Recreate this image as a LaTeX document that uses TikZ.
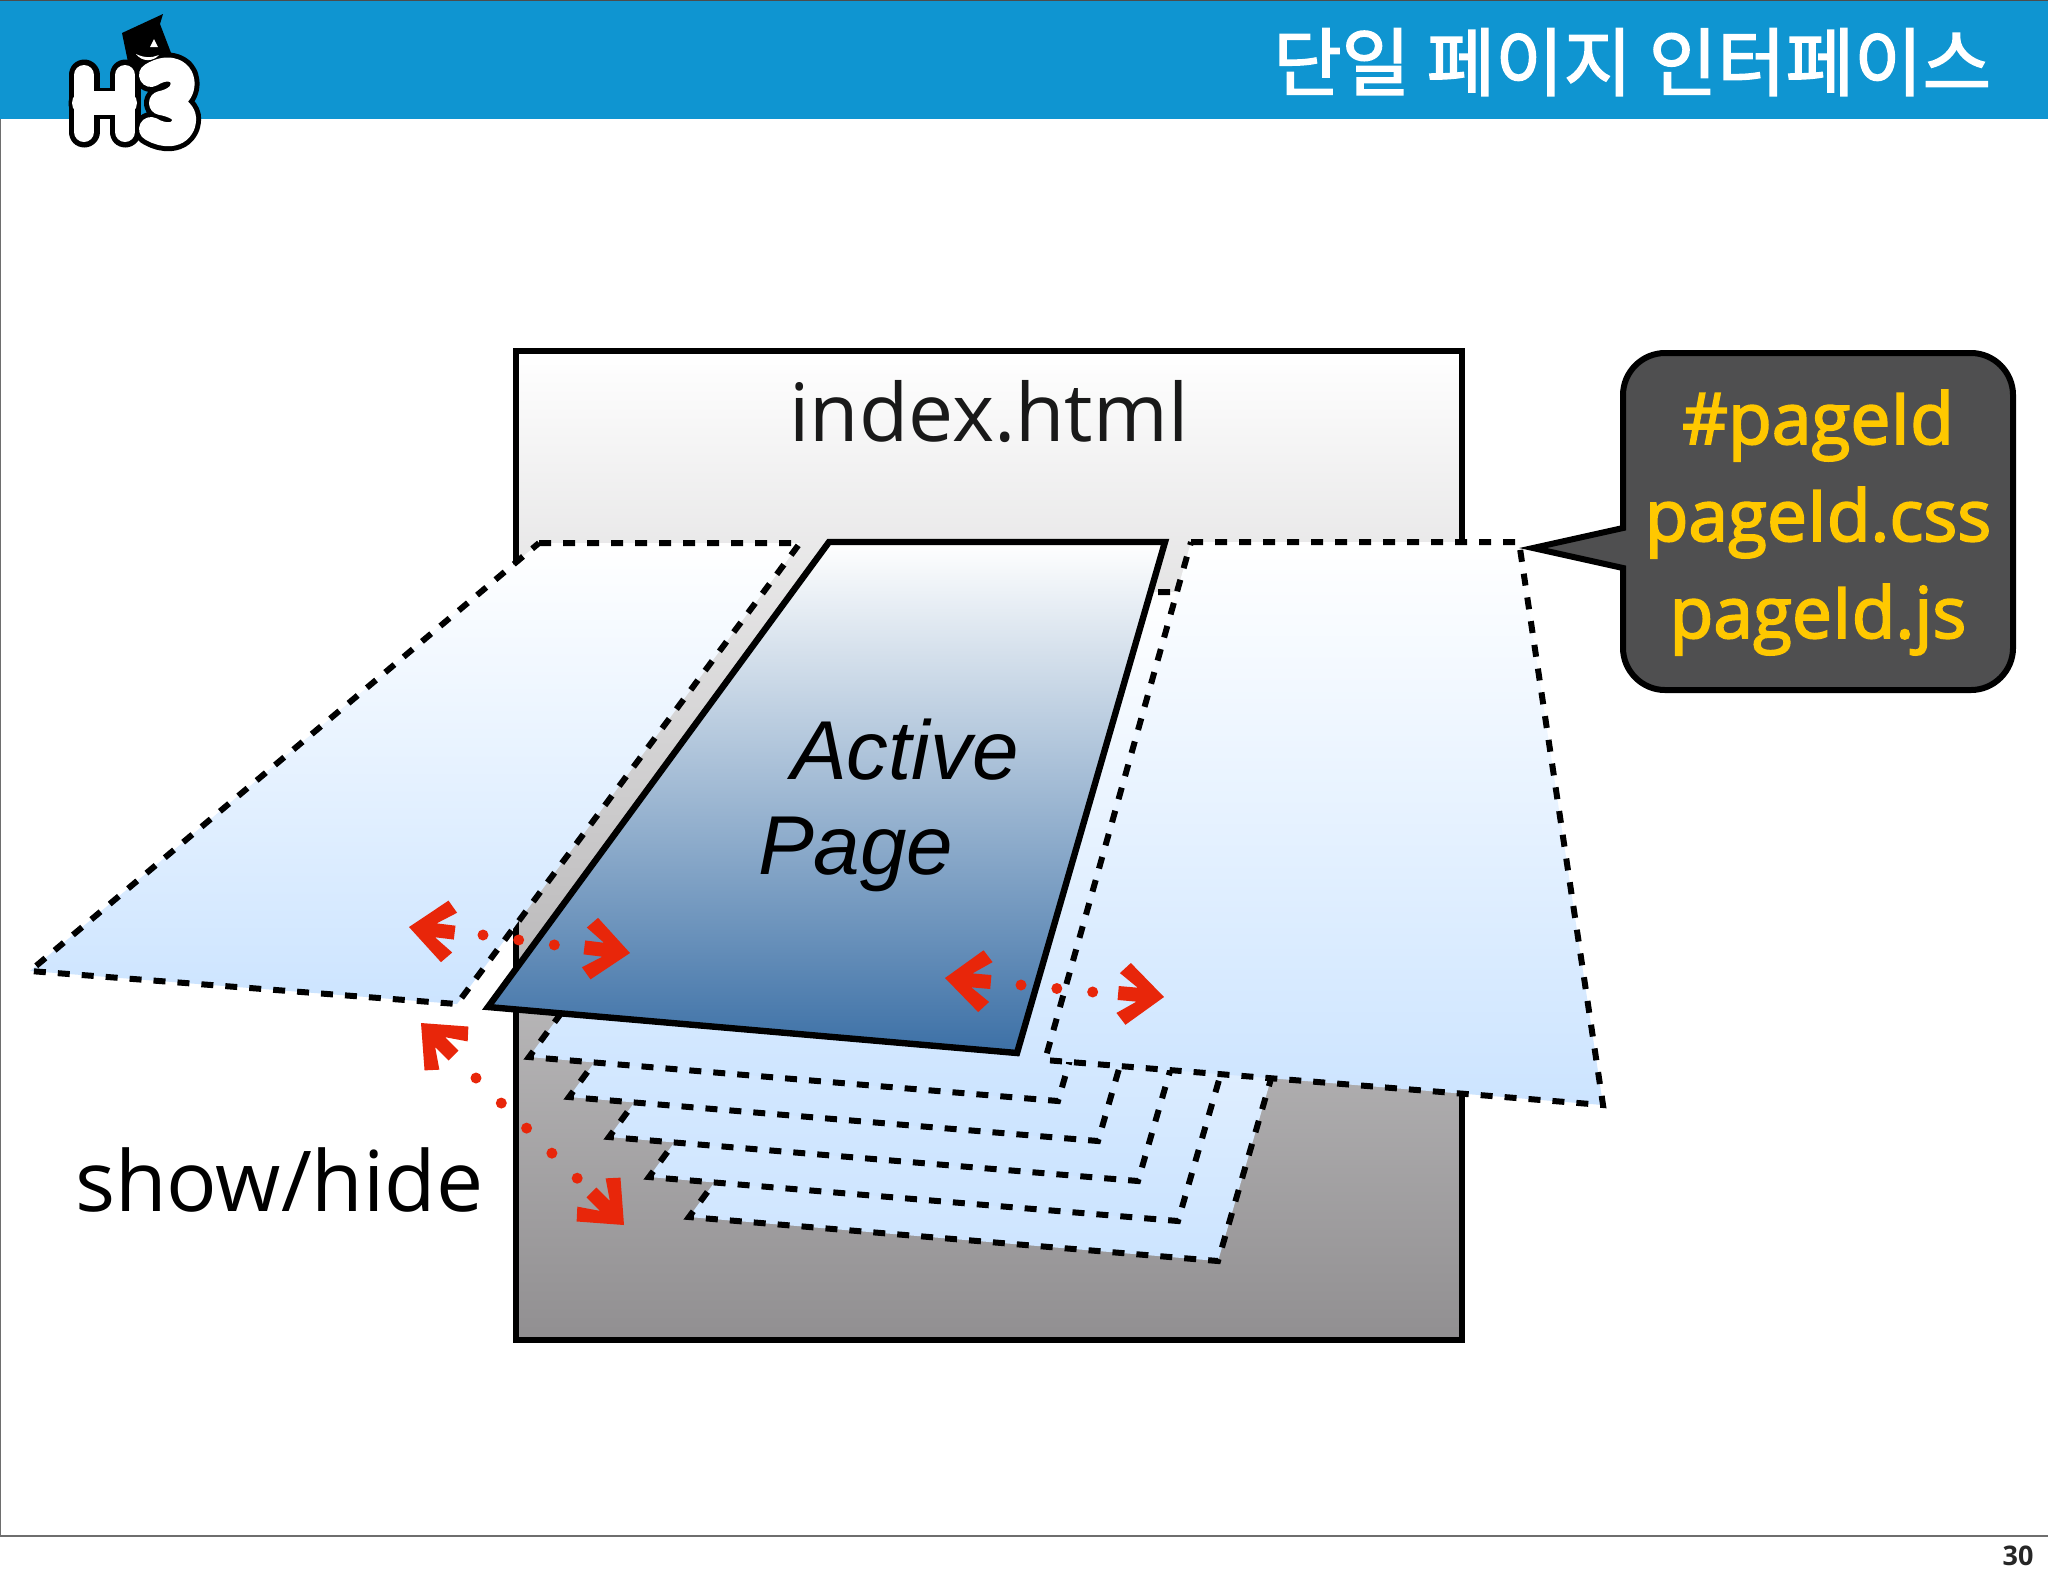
\documentclass[tikz,border=0pt]{standalone}
\usepackage{fontspec}
\setmainfont{Open Sans}
\newfontfamily\krfont{Noto Sans CJK KR}[FakeBold=2]
\newfontfamily\helvfont{Liberation Sans}
\newfontfamily\callfont{Open Sans}[FakeBold=2.5]
\definecolor{hdr}{HTML}{0F95D1}
\definecolor{pageblue}{HTML}{CCE4FF}
\definecolor{activeblue}{HTML}{3C70A6}
\definecolor{redarrow}{HTML}{E8260A}
\definecolor{callgray}{HTML}{4F4F50}
\definecolor{callyellow}{HTML}{FFC800}
\definecolor{framegray}{HTML}{6E6E6E}
\definecolor{boxbottom}{HTML}{918F91}
\tikzset{
  x=0.5pt,y=-0.5pt,
  txt/.style={inner sep=0pt,outer sep=0pt,anchor=base},
  dashedge/.style={draw=black,line width=3pt,dash pattern=on 6pt off 6pt,line join=miter},
  trapshade/.style={top color=white,bottom color=pageblue,draw=none},
  reddots/.style={draw=redarrow,line width=5.5pt,line cap=round,dash pattern=on 0pt off #1},
  redhead/.style={fill=redarrow,draw=none},
  logoblack/.style={draw=black,line cap=round,line join=round},
  logowhite/.style={draw=white,line cap=round,line join=round},
  calltext/.style={txt,text=callyellow,font={\callfont\fontsize{35.6pt}{44pt}\selectfont}},
  activetext/.style={txt,anchor=base west,font={\helvfont\itshape\fontsize{41.8pt}{48pt}\selectfont}},
}
\newcommand{\headshape}{(0,0) -- (-36,31) -- (-46,20) -- (-27,7) -- (-46,7) -- (-46,-7) -- (-27,-7) -- (-46,-20) -- (-36,-31) -- cycle}
\newcommand{\threepath}{(151,75) .. controls (170,63) and (186,72) .. (182,88) .. controls (180,96) and (171,101) .. (161,103) .. controls (172,105) and (186,110) .. (184,121) .. controls (182,137) and (164,137) .. (151,129)}
\begin{document}
\begin{tikzpicture}
\useasboundingbox (0,0) rectangle (2048,1576);
\fill[white] (0,0) rectangle (2048,1576);
% slide frame
\draw[framegray,line width=0.8pt] (0,0) -- (0,1536) -- (2048,1536);
% header
\fill[hdr] (0,0) rectangle (2048,119);
\draw[black!70,line width=0.8pt] (0,0.6) -- (2048,0.6);
\node[txt,anchor=base east,text=white,font={\krfont\fontsize{37.2pt}{44pt}\selectfont}] (title) at (1991,90) {단일 페이지 인터페이스};
% logo
\fill[black] (122,33) -- (163,14) -- (160,24) -- (173,58) -- (150,75) -- (128,62) -- cycle;
\draw[logoblack,line width=15.5pt] (84,75) -- (84,132) (125,75) -- (125,132) (84,103) -- (125,103);
\draw[logoblack,line width=17pt] \threepath;
\fill[white] (150,47) -- (154,39) -- (158,47) -- cycle;
\fill[white] (136,54) .. controls (144,58) and (152,58) .. (159,55) .. controls (153,62) and (142,62) .. (136,54) -- cycle;
\draw[logowhite,line width=10pt] (84,75) -- (84,132) (125,75) -- (125,132);
\draw[logowhite,line width=12pt] (84,103) -- (125,103);
\draw[logowhite,line width=12pt] \threepath;
% index.html box
\path[draw=black,line width=3.2pt,top color=white,bottom color=boxbottom] (516,351) rectangle (1462,1340);
\node[txt,text=black!90,font={\fontsize{40.2pt}{50pt}\selectfont}] (index) at (989,441) {index.html};
% stacked pages, back to front
\foreach \k in {4,3,2,1,0} {
  \begin{scope}[shift={({41+40*\k},{50+40*\k})}]
    \path[trapshade] (829,542) -- (1165,542) -- (1017,1051) -- (488,1007) -- cycle;
    \draw[dashedge] (829,542) -- (1165,542) -- (1017,1051) -- (488,1007) -- cycle;
  \end{scope}
}
% left and right pages
\path[trapshade] (539,543) -- (800,543) -- (457,1004) -- (30,971) -- cycle;
\draw[dashedge] (539,543) -- (800,543) -- (457,1004) -- (30,971) -- cycle;
\path[trapshade] (1191,542) -- (1519,542) -- (1603,1105) -- (1045,1060) -- cycle;
\draw[dashedge] (1191,542) -- (1519,542) -- (1603,1105) -- (1045,1060) -- cycle;
% active page
\path[top color=white,bottom color=activeblue] (829,542) -- (1165,542) -- (1017,1053) -- (488,1007) -- cycle;
\draw[black,line width=3.2pt,line join=miter] (829,542) -- (1165,542) -- (1017,1053) -- (488,1007) -- cycle;
\node[activetext] (active) at (791,779) {Active};
\node[activetext] (pagetxt) at (758,874) {Page};
\node[txt,anchor=base west,font={\fontsize{42pt}{50pt}\selectfont}] (showhide) at (75,1211) {show/hide};
% callout
\path[fill=callgray,draw=black,line width=3pt,line join=miter,miter limit=10]
  (1533,548) -- (1623,528) -- (1623,395) .. controls (1623,372) and (1642,353) .. (1665,353) -- (1971,353) .. controls (1994,353) and (2013,372) .. (2013,395) -- (2013,648) .. controls (2013,671) and (1994,690) .. (1971,690) -- (1665,690) .. controls (1642,690) and (1623,671) .. (1623,648) -- (1623,568) -- cycle;
\node[calltext] (css0) at (1818,444) {\#pageId};
\node[calltext] (css1) at (1818,541) {pageId.css};
\node[calltext] (css2) at (1818,638) {pageId.js};
% red arrows
\coordinate (a1s) at (483,935); \coordinate (a1e) at (555,945);
\coordinate (a2s) at (1021,985); \coordinate (a2e) at (1093,992);
\coordinate (a3s) at (476,1078); \coordinate (a3e) at (578,1179);
\draw[reddots=18pt] (a1s) -- (a1e);
\draw[reddots=18pt] (a2s) -- (a2e);
\draw[reddots=17.8pt] (a3s) -- (a3e);
\fill[redhead,shift={(409,927)},rotate=173] \headshape;
\fill[redhead,shift={(630,953)},rotate=-7] \headshape;
\fill[redhead,shift={(945,978)},rotate=175] \headshape;
\fill[redhead,shift={(1164,997)},rotate=-5] \headshape;
\fill[redhead,shift={(421,1023)},rotate=135] \headshape;
\fill[redhead,shift={(624,1225)},rotate=-45] \headshape;
% page number
\node[txt,font={\bfseries\fontsize{13.5pt}{16pt}\selectfont},text=black!85] (pnum) at (2018,1565) {30};
\end{tikzpicture}
\end{document}
